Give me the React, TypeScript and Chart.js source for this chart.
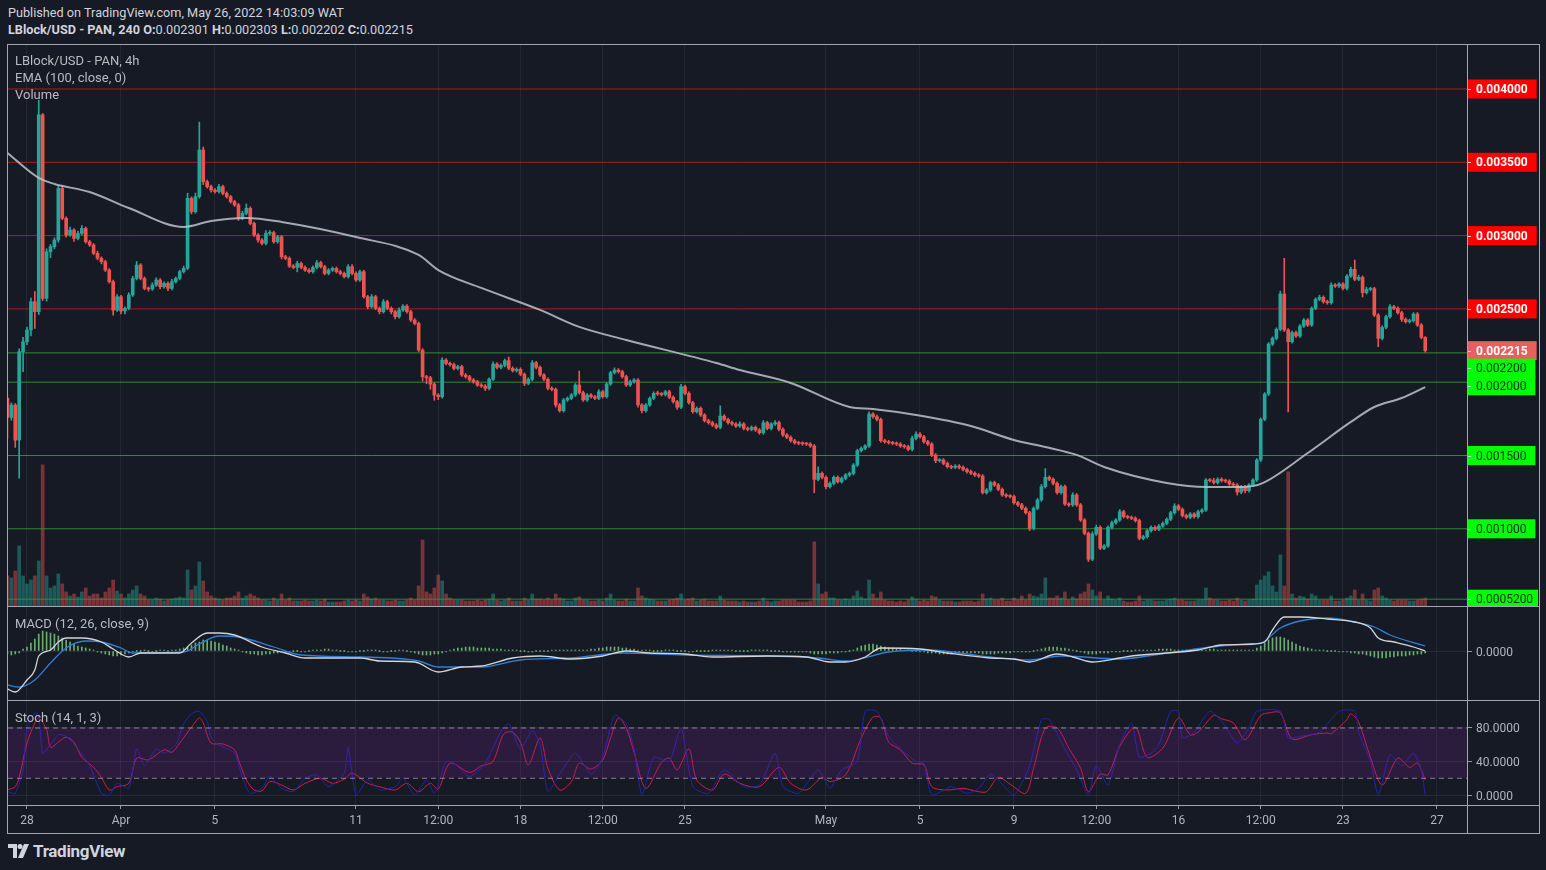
import React, { useEffect, useRef } from 'react';
import { Chart, registerables } from 'chart.js';

Chart.register(...registerables);

// ---------------- DATA (prices in units of 0.000001 USD) ----------------
const firstOpen = 1890;
const closes = [
  1760, 1844, 1605, 2208, 2276, 2356, 2549, 2481, 3823, 2572,
  2890, 2924, 2970, 3322, 3118, 3004, 3038, 2981, 3015, 3049,
  2958, 2936, 2879, 2845, 2822, 2765, 2686, 2492, 2583, 2486,
  2504, 2595, 2708, 2799, 2708, 2640, 2636, 2663, 2697, 2651,
  2674, 2640, 2686, 2708, 2754, 2777, 3254, 3163, 3265, 3584,
  3368, 3334, 3311, 3300, 3334, 3288, 3265, 3231, 3209, 3118,
  3152, 3186, 3083, 3004, 2970, 2947, 3015, 3020, 2958, 2992,
  2856, 2845, 2792, 2783, 2810, 2783, 2765, 2754, 2783, 2815,
  2788, 2742, 2765, 2776, 2754, 2742, 2720, 2788, 2742, 2697,
  2754, 2583, 2515, 2583, 2504, 2481, 2549, 2504, 2481, 2447,
  2492, 2519, 2481, 2424, 2401, 2219, 2037, 2030, 1987, 1912,
  1901, 2151, 2128, 2120, 2094, 2106, 2049, 2037, 2015, 2003,
  1981, 1974, 1958, 2020, 2124, 2101, 2115, 2147, 2095, 2079,
  2088, 2054, 1992, 2020, 2133, 2101, 2049, 2020, 1958, 1951,
  1845, 1806, 1879, 1890, 1913, 1981, 1929, 1879, 1913, 1901,
  1890, 1935, 1901, 1988, 2065, 2083, 2072, 2038, 1981, 2004,
  2015, 1845, 1806, 1845, 1890, 1924, 1920, 1916, 1935, 1897,
  1867, 1829, 1970, 1924, 1860, 1799, 1822, 1776, 1738, 1724,
  1708, 1692, 1769, 1746, 1724, 1715, 1701, 1715, 1685, 1678,
  1692, 1674, 1655, 1724, 1685, 1715, 1724, 1678, 1640, 1624,
  1601, 1587, 1583, 1580, 1578, 1565, 1337, 1378, 1351, 1287,
  1310, 1351, 1321, 1344, 1367, 1378, 1435, 1533, 1549, 1565,
  1783, 1765, 1746, 1601, 1594, 1587, 1583, 1578, 1565, 1560,
  1542, 1617, 1646, 1628, 1594, 1578, 1503, 1465, 1469, 1446,
  1424, 1419, 1428, 1419, 1405, 1390, 1379, 1367, 1360, 1247,
  1265, 1315, 1299, 1269, 1231, 1224, 1220, 1178, 1163, 1140,
  1110, 1003, 1140, 1197, 1288, 1351, 1338, 1310, 1247, 1288,
  1169, 1163, 1231, 1163, 1060, 969, 792, 965, 1010, 867,
  883, 1010, 1042, 1060, 1117, 1083, 1078, 1072, 1056, 935,
  946, 987, 1010, 997, 1019, 1037, 1065, 1110, 1156, 1133,
  1090, 1078, 1101, 1083, 1117, 1128, 1333, 1329, 1315, 1338,
  1329, 1325, 1306, 1299, 1250, 1287, 1260, 1299, 1333, 1469,
  1747, 1919, 2260, 2299, 2361, 2602, 2356, 2276, 2338, 2315,
  2383, 2424, 2390, 2504, 2565, 2579, 2549, 2542, 2663, 2656,
  2670, 2640, 2724, 2770, 2702, 2715, 2611, 2633, 2638, 2458,
  2299, 2374, 2447, 2515, 2504, 2474, 2429, 2413, 2420, 2465,
  2390, 2306, 2215,
];
// wick lengths above / below the candle body
const upperWicks = [
  10, 15, 10, 20, 30, 20, 25, 70, 100, 10,
  20, 15, 15, 15, 20, 10, 20, 10, 15, 20,
  10, 10, 10, 15, 10, 10, 10, 10, 15, 10,
  10, 15, 15, 25, 10, 10, 10, 15, 15, 10,
  10, 10, 15, 10, 10, 15, 35, 10, 25, 190,
  20, 10, 10, 10, 15, 10, 10, 10, 10, 10,
  15, 30, 10, 10, 10, 10, 20, 15, 10, 10,
  10, 10, 10, 10, 15, 10, 10, 10, 10, 15,
  10, 10, 10, 10, 10, 10, 10, 15, 15, 10,
  10, 10, 10, 15, 10, 10, 15, 10, 10, 10,
  15, 10, 10, 10, 10, 10, 10, 10, 10, 10,
  10, 15, 10, 10, 10, 10, 10, 10, 10, 10,
  10, 10, 10, 10, 15, 10, 10, 10, 25, 10,
  10, 10, 10, 10, 15, 10, 10, 10, 10, 10,
  10, 10, 10, 10, 10, 10, 95, 10, 10, 10,
  10, 15, 10, 10, 10, 15, 10, 10, 10, 10,
  10, 10, 10, 10, 10, 10, 15, 10, 10, 10,
  10, 10, 15, 10, 10, 10, 10, 10, 10, 10,
  10, 10, 70, 10, 10, 10, 10, 15, 10, 10,
  10, 10, 10, 15, 10, 10, 15, 10, 10, 10,
  10, 10, 10, 10, 10, 10, 10, 45, 10, 10,
  10, 10, 10, 10, 10, 10, 10, 10, 10, 10,
  15, 10, 10, 10, 10, 10, 10, 10, 10, 10,
  10, 15, 15, 10, 10, 10, 10, 10, 10, 10,
  10, 10, 10, 10, 10, 10, 10, 10, 10, 10,
  10, 10, 10, 10, 10, 10, 10, 10, 10, 10,
  10, 10, 10, 10, 15, 60, 10, 10, 10, 10,
  10, 10, 15, 10, 10, 10, 10, 15, 15, 10,
  10, 10, 10, 10, 15, 10, 10, 10, 10, 10,
  10, 10, 10, 10, 10, 10, 10, 10, 15, 10,
  10, 10, 10, 10, 10, 10, 10, 10, 15, 10,
  10, 10, 10, 10, 10, 10, 10, 10, 10, 10,
  10, 10, 10, 10, 10, 20, 243, 10, 10, 10,
  10, 10, 10, 10, 10, 15, 10, 10, 15, 10,
  10, 10, 10, 15, 63, 15, 10, 15, 10, 10,
  10, 10, 10, 15, 10, 10, 10, 10, 10, 10,
  10, 10, 5,
];
const lowerWicks = [
  143, 20, 50, 260, 136, 20, 40, 114, 20, 15,
  20, 40, 15, 15, 10, 15, 10, 20, 10, 10,
  10, 10, 10, 10, 15, 10, 10, 35, 10, 20,
  20, 10, 10, 10, 10, 10, 15, 10, 10, 15,
  10, 15, 10, 10, 10, 10, 10, 15, 10, 10,
  20, 10, 15, 10, 10, 10, 10, 10, 10, 15,
  10, 10, 10, 10, 15, 10, 10, 10, 10, 10,
  15, 10, 10, 10, 30, 10, 10, 10, 10, 10,
  10, 10, 10, 10, 10, 10, 10, 10, 10, 10,
  10, 10, 15, 10, 10, 15, 10, 10, 15, 15,
  10, 10, 10, 10, 10, 10, 30, 40, 35, 35,
  20, 10, 10, 10, 10, 10, 10, 10, 10, 10,
  10, 10, 15, 10, 10, 10, 10, 10, 10, 10,
  10, 10, 15, 10, 10, 10, 10, 10, 10, 10,
  15, 10, 10, 10, 10, 10, 10, 10, 10, 10,
  10, 10, 10, 10, 10, 10, 10, 10, 10, 10,
  10, 15, 15, 10, 10, 10, 10, 10, 10, 10,
  10, 15, 10, 10, 10, 10, 10, 10, 10, 10,
  10, 10, 10, 10, 10, 10, 10, 10, 10, 10,
  10, 10, 10, 10, 10, 10, 10, 10, 10, 10,
  10, 10, 10, 10, 10, 10, 91, 10, 10, 15,
  10, 10, 10, 10, 10, 10, 10, 10, 10, 10,
  10, 10, 10, 10, 10, 10, 10, 10, 10, 10,
  10, 10, 10, 10, 10, 10, 10, 15, 10, 10,
  10, 10, 10, 10, 10, 10, 10, 10, 10, 10,
  10, 10, 10, 10, 10, 10, 10, 10, 10, 10,
  10, 15, 10, 10, 10, 10, 10, 10, 10, 10,
  10, 10, 10, 10, 10, 10, 15, 10, 10, 10,
  10, 10, 10, 10, 10, 10, 10, 10, 10, 10,
  10, 10, 10, 10, 10, 10, 10, 10, 10, 10,
  10, 10, 10, 10, 10, 10, 10, 10, 10, 10,
  10, 10, 10, 10, 20, 10, 15, 10, 10, 10,
  10, 10, 10, 10, 10, 10, 10, 479, 10, 10,
  10, 10, 10, 10, 10, 10, 10, 10, 10, 10,
  10, 10, 10, 10, 10, 10, 30, 10, 10, 10,
  57, 10, 10, 10, 10, 10, 15, 10, 10, 10,
  10, 10, 10,
];
const volumes = [
  30, 28, 35, 60, 30, 22, 26, 30, 45, 141,
  30, 18, 20, 32, 22, 14, 10, 12, 9, 14,
  18, 10, 12, 12, 8, 14, 18, 26, 15, 12,
  8, 12, 16, 20, 12, 10, 6, 6, 8, 7,
  5, 6, 7, 8, 9, 8, 36, 16, 20, 44,
  25, 14, 10, 8, 7, 6, 8, 8, 10, 14,
  8, 10, 12, 10, 8, 6, 6, 5, 8, 6,
  12, 6, 8, 5, 5, 5, 6, 5, 5, 6,
  5, 7, 4, 4, 4, 4, 5, 6, 5, 6,
  5, 12, 9, 7, 8, 6, 6, 5, 5, 6,
  5, 5, 6, 8, 6, 20, 66, 14, 12, 18,
  31, 25, 12, 8, 6, 6, 6, 5, 5, 5,
  6, 5, 6, 7, 12, 6, 5, 6, 8, 5,
  5, 5, 8, 6, 12, 7, 7, 6, 8, 6,
  12, 8, 7, 5, 5, 8, 9, 6, 6, 5,
  5, 6, 5, 8, 12, 6, 5, 5, 7, 5,
  5, 18, 10, 8, 7, 6, 5, 5, 5, 6,
  7, 8, 12, 6, 7, 8, 5, 6, 7, 5,
  5, 5, 10, 6, 5, 5, 5, 4, 5, 4,
  4, 4, 5, 8, 5, 4, 5, 5, 6, 6,
  6, 6, 4, 4, 4, 5, 64, 22, 12, 14,
  8, 8, 6, 6, 7, 6, 10, 15, 9, 7,
  26, 12, 8, 14, 6, 5, 5, 4, 5, 4,
  6, 9, 7, 5, 6, 5, 10, 9, 6, 5,
  5, 5, 4, 4, 5, 5, 5, 4, 5, 12,
  7, 8, 6, 6, 8, 5, 5, 8, 6, 10,
  6, 12, 10, 9, 12, 28, 8, 8, 10, 8,
  14, 6, 9, 7, 12, 14, 22, 16, 10, 14,
  6, 10, 7, 6, 8, 5, 4, 4, 5, 10,
  5, 6, 6, 5, 5, 5, 6, 7, 8, 6,
  6, 5, 5, 5, 6, 6, 18, 8, 6, 6,
  5, 5, 6, 5, 8, 6, 5, 6, 7, 21,
  26, 30, 34, 20, 14, 51, 20, 134, 12, 8,
  10, 9, 7, 12, 10, 6, 6, 6, 10, 5,
  5, 6, 8, 10, 16, 6, 12, 6, 5, 16,
  18, 10, 8, 6, 5, 6, 6, 6, 5, 5,
  6, 7, 8,
];
// EMA(100) read at candle indices: [index, value]
const emaPoints = [
  [0, 3563], [8, 3393], [12, 3352], [21, 3297], [31, 3188], [45, 3059], [52, 3100], [61, 3120],
  [70, 3093], [89, 2990], [105, 2868], [110, 2765], [121, 2643], [136, 2493], [146, 2377],
  [158, 2288], [181, 2131], [187, 2083], [200, 1995], [215, 1831], [221, 1817], [232, 1776],
  [246, 1701], [257, 1606], [265, 1558], [273, 1504], [280, 1422], [296, 1313], [306, 1285],
  [315, 1285], [320, 1306], [332, 1517], [343, 1729], [349, 1831], [356, 1892], [362, 1967],
];
// MACD in units of 0.00001: [index, value]
const macdPoints = [
  [0, -38], [2, -41], [5, -29], [7, -19], [8, -5], [11, 1], [13, 9], [15, 13], [19, 13], [24, 9],
  [27, 2], [31, -6], [34, -2], [44, -2], [47, 8], [51, 18], [54, 18], [58, 16], [65, 4], [71, -2],
  [76, -7], [90, -7], [95, -10], [104, -11], [110, -21], [116, -16], [121, -15], [129, -7],
  [136, -5], [144, -8], [152, -5], [158, 0], [164, -2], [173, -3], [180, -6], [194, -5],
  [204, -6], [210, -11], [214, -11], [219, -6], [223, 3], [233, 2], [240, -2], [251, -7],
  [257, -8], [261, -11], [268, -3], [272, -6], [277, -11], [284, -7], [287, -5], [296, -2],
  [304, 1], [310, 6], [318, 7], [321, 9], [323, 21], [326, 34], [330, 34], [337, 32], [344, 29],
  [348, 23], [350, 13], [354, 9], [359, 4], [362, 0],
];
const signalPoints = [
  [0, -34], [3, -36], [7, -29], [11, -12], [15, 3], [20, 10], [24, 9], [29, 3], [32, -2],
  [45, -1], [49, 7], [54, 15], [59, 14], [68, 4], [75, -4], [90, -6], [105, -10], [110, -16],
  [121, -16], [131, -9], [144, -7], [157, -2], [173, -4], [194, -5], [207, -7], [214, -10],
  [225, -1], [235, 1], [251, -6], [261, -9], [269, -5], [284, -8], [296, -2], [313, 6], [320, 8],
  [325, 23], [330, 30], [337, 33], [344, 29], [349, 24], [353, 16], [362, 5],
];
const macdHist = [
  -3, -4, -3, -2,
  2, 4, 8, 12, 17,
  20, 19, 18, 17, 15,
  13, 11, 9, 7, 5, 4, 3, 2,
  1, -1, -2, -3, -4, -5, -5, -4, -3, -2, -1,
  0, 0, 1, 0, -1, 0, 1, 1, 0, 1, 1,
  2, 3, 4, 6, 8, 9,
  11, 11, 10, 9,
  8, 6, 5, 3, 2, 1,
  -1, -2, -3, -3, -4, -4, -3, -3, -2, -2,
  -1, -1, -1, 0, 0, -1, -1, 0, 1, 1, 1, 2, 2, 1, 1, 0, 0, -1, -1, -1,
  0, 0, 1, 1, 1, 0, -1, -1, 0, 0, 1, 1, 0, -1, -2,
  -3, -4, -4, -4, -3, -3, -2, -1,
  1, 2, 3, 3, 4, 4, 4, 3, 3, 3, 3, 2, 2, 2, 1, 1,
  1, 1, 0, 0, -1, -1, 0, 0, 0, 0, 1, 1, 1, 1, 1, 1, 1, 1, 1, 1, 2, 2,
  3, 3, 4, 4, 4, 4, 3, 3, 2, 2, 1, 1,
  1, 1, 0, 0, 0, 1, 1, 1, 0, 0, 0, -1, -1, 0, 0, 0, 0, 1, 1, 1,
  1, 1, 1, 0, 0, 0, 0, 1, 1, 1, 1, 1, 0, 0, 0, -1, -1, -1, -1, -1, -1, -1, -2,
  -3, -3, -3, -3, -2, -2, -2, -1, -1, 0, 1,
  3, 5, 6, 7, 7, 6, 5, 4, 3,
  3, 2, 2, 1, 1, 0, 0, -1, -1, -2, -2, -2, -3,
  -3, -3, -2, -2, -2, -2, -2, -2, -2, -2, -3, -3, -3, -3, -2, -2, -2, -2, -1, -1,
  -1, -1, -1, 0, 1, 2, 3,
  4, 4, 4, 3, 3, 2, 1, 0, -1, -2,
  -3, -3, -3, -2, -2, -2, -1, -1, -1, 0, 0, 0, 1, 1, 1,
  1, 1, 1, 2, 2, 2, 2, 1, 1, 1, 1, 1, 1, 1, 1, 1, 2, 2, 1, 1,
  1, 1, 1, 1, 1, 1, 1, 1,
  3, 5, 8, 11, 13, 14, 14, 13, 11, 9, 7, 5,
  4, 3, 2, 1, 1, 1, 0, 0, 0, -1, -1, -1, -2,
  -2, -3, -3, -4, -5, -6, -7, -7, -7, -6, -6, -5, -5, -5, -4, -4, -3, -3, -2,
];
// Stochastic %K (blue) and %D (red): [index, value]
const stochK = [
  [0, 4], [2, 2], [4, 30], [5, 80], [7, 98], [8, 96], [9, 50], [11, 60], [13, 72], [15, 70],
  [18, 55], [21, 35], [24, 2], [26, 0], [28, 14], [31, 8], [33, 55], [35, 35], [38, 55], [40, 50],
  [43, 60], [45, 85], [47, 97], [49, 100], [51, 88], [52, 68], [54, 60], [58, 50], [60, 20],
  [62, 2], [65, 8], [67, 22], [70, 8], [73, 4], [76, 20], [79, 24], [82, 10], [86, 26], [87, 57],
  [89, 0], [92, 18], [95, 6], [99, 10], [101, 20], [104, 0], [107, 18], [109, 2], [112, 40],
  [114, 38], [118, 22], [122, 38], [126, 76], [128, 85], [131, 55], [134, 77], [136, 60],
  [138, 4], [141, 25], [145, 50], [149, 25], [152, 45], [155, 95], [158, 85], [160, 55],
  [162, 0], [165, 45], [169, 40], [172, 80], [175, 10], [179, 2], [183, 30], [188, 10],
  [192, 12], [196, 50], [198, 10], [202, 2], [207, 30], [210, 8], [213, 30], [217, 40],
  [219, 100], [222, 100], [225, 70], [228, 55], [232, 40], [234, 38], [236, 0], [241, 10],
  [245, 2], [248, 8], [251, 25], [253, 18], [257, 0], [261, 35], [264, 90], [266, 90],
  [270, 55], [273, 30], [276, 0], [278, 35], [281, 12], [284, 60], [287, 86], [289, 45],
  [292, 50], [294, 60], [297, 100], [299, 100], [300, 68], [303, 75], [307, 100], [310, 88],
  [314, 62], [317, 80], [319, 100], [325, 100], [327, 68], [330, 70], [335, 75], [340, 100],
  [344, 100], [345, 75], [348, 40], [350, 0], [353, 48], [356, 35], [359, 50], [361, 30],
  [362, 0],
];
const stochD = [
  [0, 6], [2, 10], [3, 21], [5, 62], [7, 86], [8, 92], [10, 78], [11, 57], [13, 63], [15, 69],
  [17, 63], [19, 45], [22, 33], [24, 21], [26, 6], [28, 10], [31, 14], [33, 44], [36, 42],
  [40, 54], [42, 51], [44, 62], [47, 81], [49, 92], [50, 86], [52, 62], [55, 61], [58, 54],
  [59, 42], [61, 18], [63, 6], [65, 5], [67, 16], [70, 12], [73, 6], [76, 14], [80, 20],
  [83, 14], [86, 19], [88, 26], [92, 14], [95, 10], [99, 6], [102, 14], [105, 4], [108, 14],
  [110, 7], [113, 38], [118, 27], [121, 35], [122, 36], [124, 40], [126, 66], [127, 74],
  [129, 75], [131, 63], [133, 36], [136, 68], [138, 32], [141, 6], [144, 16], [146, 38],
  [149, 31], [152, 42], [154, 68], [156, 92], [158, 80], [160, 51], [163, 8], [167, 39],
  [169, 44], [171, 30], [174, 55], [176, 18], [180, 6], [183, 25], [187, 14], [192, 10],
  [197, 33], [200, 14], [204, 6], [208, 21], [210, 16], [214, 24], [218, 68], [221, 93],
  [223, 92], [225, 63], [228, 54], [231, 38], [234, 36], [236, 10], [240, 6], [244, 8],
  [248, 4], [250, 4], [253, 21], [256, 13], [260, 2], [262, 32], [265, 80], [268, 80],
  [271, 56], [274, 32], [276, 4], [279, 25], [281, 24], [284, 58], [288, 81], [291, 45],
  [295, 56], [299, 92], [302, 72], [304, 75], [308, 95], [310, 91], [313, 86], [316, 66],
  [320, 95], [322, 98], [325, 98], [328, 67], [333, 72], [337, 74], [338, 73], [342, 90],
  [343, 97], [345, 87], [348, 45], [351, 12], [355, 44], [358, 33], [360, 38], [362, 18],
];
// horizontal levels drawn on the price pane
const levelValues = [4000, 3500, 3000, 2500, 2200, 2000, 1500, 1000, 520];
const levelKinds = ['resistance', 'resistance', 'resistance', 'resistance', 'support', 'support', 'support', 'support', 'support'];
const levelLabels = ['0.004000', '0.003500', '0.003000', '0.002500', '0.002200', '0.002000', '0.001500', '0.001000', '0.0005200'];
const lastPrice = 2215;
const lastPriceLabel = '0.002215';
// time axis
const timeTickIndex = [5, 29, 53, 89, 110, 131, 152, 173, 209, 233, 257, 278, 299, 320, 341, 365];
const timeTickLabels = ['28', 'Apr', '5', '11', '12:00', '18', '12:00', '25', 'May', '5', '9', '12:00', '16', '12:00', '23', '27'];
const macdTicks = [0];
const macdTickLabels = ['0.0000'];
const stochTicks = [0, 40, 80];
const stochTickLabels = ['0.0000', '40.0000', '80.0000'];
const stochBands = [80, 20];

// ---------------- STYLE / LAYOUT ----------------
const FONT = "Roboto, 'Open Sans', sans-serif";
const BG = '#161a25';
const SEP = '#a3a6af';
const AXIS_TEXT = '#b2b5be';
const UP = '#26a69a';
const DOWN = '#ef5350';
const UP_VOL = 'rgba(38,166,154,0.45)';
const DOWN_VOL = 'rgba(239,83,80,0.45)';
const RED_LINE = 'rgba(200,28,28,0.85)';
const GREEN_LINE = 'rgba(50,160,50,0.85)';
const GRID = 'rgba(255,255,255,0.06)';
const X_MIN = 0.15;
const X_MAX = 372.66;
const AXIS_W = 71;
const CANVAS_W = 1530;
const PRICE_MIN = 473.5;
const PRICE_MAX = 4300;
const VOL_MAX = 560;

function pts(list) {
  return list.map(([i, v]) => ({ x: i, y: v }));
}

function xScale(showLabels) {
  return {
    type: 'linear',
    min: X_MIN,
    max: X_MAX,
    offset: false,
    afterBuildTicks: (s) => {
      s.ticks = timeTickIndex.map((v) => ({ value: v }));
    },
    grid: { color: GRID, offset: false, drawTicks: showLabels, tickLength: 4, tickColor: '#9598a1' },
    border: { display: false },
    ticks: {
      display: showLabels,
      autoSkip: false,
      maxRotation: 0,
      color: AXIS_TEXT,
      padding: 5,
      font: { size: 12, family: FONT },
      callback: (v, idx) => timeTickLabels[idx],
    },
    afterFit: (s) => {
      s.height = showLabels ? 28 : 0;
      s.paddingLeft = 0;
      s.paddingRight = 0;
    },
  };
}

function yFit(s) {
  s.width = AXIS_W;
  s.paddingTop = 0;
  s.paddingBottom = 0;
}

const common = {
  responsive: false,
  animation: false,
  events: [],
  layout: { padding: 0 },
  plugins: { legend: { display: false }, tooltip: { enabled: false } },
};

const priceLabelPlugin = {
  id: 'priceLabels',
  afterDraw(chart) {
    const ys = chart.scales.y;
    const ctx = chart.ctx;
    const items = levelValues
      .map((v, k) => ({ v, text: levelLabels[k], kind: levelKinds[k] }))
      .concat([{ v: lastPrice, text: lastPriceLabel, kind: 'last' }])
      .sort((a, b) => b.v - a.v);
    const step = 17.5;
    const boxH = 19;
    let prev = -1e9;
    ctx.save();
    ctx.textBaseline = 'middle';
    for (const it of items) {
      let cy = ys.getPixelForValue(it.v);
      if (cy < prev + step) cy = prev + step;
      prev = cy;
      const bold = it.kind !== 'support';
      ctx.font = `${bold ? 'bold ' : ''}12px ${FONT}`;
      const w = ctx.measureText(it.text).width + 18;
      ctx.fillStyle = it.kind === 'resistance' ? '#ff0000' : it.kind === 'support' ? '#00ff00' : '#e8605e';
      ctx.fillRect(ys.left, cy - boxH / 2, w, boxH);
      ctx.fillStyle = it.kind === 'support' ? '#1a2a1a' : '#ffffff';
      ctx.fillText(it.text, ys.left + 9, cy + 1);
      ctx.strokeStyle = '#d1d4dc';
      ctx.lineWidth = 1;
      ctx.beginPath();
      ctx.moveTo(ys.left, Math.round(cy) + 0.5);
      ctx.lineTo(ys.left + 4, Math.round(cy) + 0.5);
      ctx.stroke();
    }
    ctx.restore();
  },
};

function mainConfig() {
  const opens = closes.map((c, i) => (i === 0 ? firstOpen : closes[i - 1]));
  const highs = closes.map((c, i) => Math.max(opens[i], c) + upperWicks[i]);
  const lows = closes.map((c, i) => Math.min(opens[i], c) - lowerWicks[i]);
  const up = closes.map((c, i) => c >= opens[i]);
  const candleColor = up.map((u) => (u ? UP : DOWN));
  const volColor = up.map((u) => (u ? UP_VOL : DOWN_VOL));
  const levelSets = levelValues.map((v, k) => ({
    type: 'line',
    yAxisID: 'y',
    data: [{ x: X_MIN, y: v }, { x: X_MAX, y: v }],
    borderColor: levelKinds[k] === 'resistance' ? RED_LINE : GREEN_LINE,
    borderWidth: 1,
    pointRadius: 0,
    order: 5,
  }));
  return {
    type: 'bar',
    data: {
      datasets: [
        {
          type: 'bar',
          yAxisID: 'yVol',
          data: volumes.map((v, i) => ({ x: i, y: v })),
          backgroundColor: volColor,
          barThickness: 3,
          grouped: false,
          order: 6,
        },
        ...levelSets,
        {
          type: 'bar',
          yAxisID: 'y',
          data: lows.map((l, i) => ({ x: i, y: [l, highs[i]] })),
          backgroundColor: candleColor,
          barThickness: 1,
          grouped: false,
          order: 3,
        },
        {
          type: 'bar',
          yAxisID: 'y',
          data: opens.map((o, i) => ({ x: i, y: [o, closes[i]] })),
          backgroundColor: candleColor,
          barThickness: 3,
          minBarLength: 1,
          grouped: false,
          order: 2,
        },
        {
          type: 'line',
          yAxisID: 'y',
          data: pts(emaPoints),
          borderColor: 'rgba(192,194,202,0.85)',
          borderWidth: 2,
          pointRadius: 0,
          cubicInterpolationMode: 'monotone',
          order: 1,
        },
      ],
    },
    options: {
      ...common,
      scales: {
        x: xScale(false),
        y: {
          type: 'linear',
          position: 'right',
          min: PRICE_MIN,
          max: PRICE_MAX,
          ticks: { display: false },
          grid: { display: false },
          border: { display: false },
          afterFit: yFit,
        },
        yVol: { type: 'linear', display: false, min: 0, max: VOL_MAX },
      },
    },
    plugins: [priceLabelPlugin],
  };
}

function sideAxis(min, max, ticks, labels) {
  return {
    type: 'linear',
    position: 'right',
    min,
    max,
    afterBuildTicks: (s) => {
      s.ticks = ticks.map((v) => ({ value: v }));
    },
    ticks: {
      color: AXIS_TEXT,
      padding: 4,
      labelOffset: 1.5,
      font: { size: 12, family: FONT },
      callback: (v, idx) => labels[idx],
    },
    grid: { color: 'rgba(255,255,255,0.07)', tickLength: 5, tickColor: '#9598a1' },
    border: { display: false },
    afterFit: yFit,
  };
}

function macdConfig() {
  return {
    type: 'bar',
    data: {
      datasets: [
        {
          type: 'bar',
          data: macdHist.map((v, i) => ({ x: i, y: v })),
          backgroundColor: 'rgba(120,200,125,0.85)',
          barThickness: 1,
          minBarLength: 1,
          grouped: false,
          order: 3,
        },
        {
          type: 'line',
          data: pts(signalPoints),
          borderColor: '#2f7fd6',
          borderWidth: 1.3,
          pointRadius: 0,
          cubicInterpolationMode: 'monotone',
          order: 2,
        },
        {
          type: 'line',
          data: pts(macdPoints),
          borderColor: '#d4d4da',
          borderWidth: 1.3,
          pointRadius: 0,
          cubicInterpolationMode: 'monotone',
          order: 1,
        },
      ],
    },
    options: {
      ...common,
      scales: { x: xScale(false), y: sideAxis(-49, 44, macdTicks, macdTickLabels) },
    },
  };
}

function stochConfig() {
  const band = (v, fill) => ({
    type: 'line',
    data: [{ x: X_MIN, y: v }, { x: X_MAX, y: v }],
    borderColor: 'rgba(178,181,190,0.7)',
    borderDash: [5, 4],
    borderWidth: 1,
    pointRadius: 0,
    fill,
    backgroundColor: 'rgba(128,40,160,0.2)',
  });
  return {
    type: 'line',
    data: {
      datasets: [
        band(stochBands[0], '+1'),
        band(stochBands[1], false),
        { data: pts(stochK), borderColor: '#2323b0', borderWidth: 1, pointRadius: 0, tension: 0.2 },
        { data: pts(stochD), borderColor: '#d81b45', borderWidth: 1, pointRadius: 0, tension: 0.3 },
      ],
    },
    options: {
      ...common,
      scales: { x: xScale(true), y: sideAxis(-11.9, 112.2, stochTicks, stochTickLabels) },
    },
  };
}

const abs = (l, t, w, h, extra = {}) => ({ position: 'absolute', left: l, top: t, width: w, height: h, ...extra });

export default function App() {
  const mainRef = useRef(null);
  const macdRef = useRef(null);
  const stochRef = useRef(null);

  useEffect(() => {
    document.body.style.margin = '0';
    document.body.style.background = BG;
    Chart.defaults.font.family = FONT;
    const charts = [
      new Chart(mainRef.current, mainConfig()),
      new Chart(macdRef.current, macdConfig()),
      new Chart(stochRef.current, stochConfig()),
    ];
    return () => charts.forEach((c) => c.destroy());
  }, []);

  const legend = { position: 'absolute', left: 15, fontSize: 13, color: '#b8bbc3', lineHeight: '16px', whiteSpace: 'nowrap' };

  return (
    <div style={{ position: 'fixed', left: 0, top: 0, width: 1546, height: 870, background: BG, fontFamily: FONT, overflow: 'hidden' }}>
      <div style={{ position: 'absolute', left: 8, top: 5, fontSize: 12.7, lineHeight: '16px', color: '#d1d4dc', whiteSpace: 'nowrap' }}>
        Published on TradingView.com, May 26, 2022 14:03:09 WAT
      </div>
      <div style={{ position: 'absolute', left: 8, top: 22, fontSize: 12.7, lineHeight: '16px', color: '#d1d4dc', whiteSpace: 'nowrap' }}>
        <b>LBlock/USD - PAN, 240</b> <b>O:</b>0.002301 <b>H:</b>0.002303 <b>L:</b>0.002202 <b>C:</b>0.002215
      </div>

      <canvas ref={mainRef} width={CANVAS_W} height={561} style={abs(8, 45, CANVAS_W, 561)} />
      <canvas ref={macdRef} width={CANVAS_W} height={93} style={abs(8, 607, CANVAS_W, 93)} />
      <canvas ref={stochRef} width={CANVAS_W} height={132} style={abs(8, 701, CANVAS_W, 132)} />

      <div style={abs(7, 44, 1533, 790, { border: `1px solid ${SEP}`, boxSizing: 'border-box' })} />
      <div style={abs(7, 606, 1533, 1, { background: SEP })} />
      <div style={abs(7, 700, 1533, 1, { background: SEP })} />
      <div style={abs(7, 805, 1533, 1, { background: SEP })} />
      <div style={abs(1467, 44, 1, 790, { background: SEP })} />

      <div style={{ ...legend, top: 53 }}>LBlock/USD - PAN, 4h</div>
      <div style={{ ...legend, top: 70 }}>EMA (100, close, 0)</div>
      <div style={{ ...legend, top: 87 }}>Volume</div>
      <div style={{ ...legend, top: 616 }}>MACD (12, 26, close, 9)</div>
      <div style={{ ...legend, top: 710 }}>Stoch (14, 1, 3)</div>

      <div style={{ position: 'absolute', left: 8, top: 842, height: 18, display: 'flex', alignItems: 'center', color: '#d1d4dc' }}>
        <svg width="22" height="14" viewBox="0 0 22 14" style={{ marginRight: 3 }}>
          <path d="M0 0 H9 V14 H5 V4 H0 Z" fill="#d1d4dc" />
          <circle cx="12" cy="2.5" r="2.5" fill="#d1d4dc" />
          <path d="M16 0 H21 L15 14 H10 Z" fill="#d1d4dc" />
        </svg>
        <span style={{ fontSize: 17, fontWeight: 700, letterSpacing: -0.3 }}>TradingView</span>
      </div>
    </div>
  );
}
